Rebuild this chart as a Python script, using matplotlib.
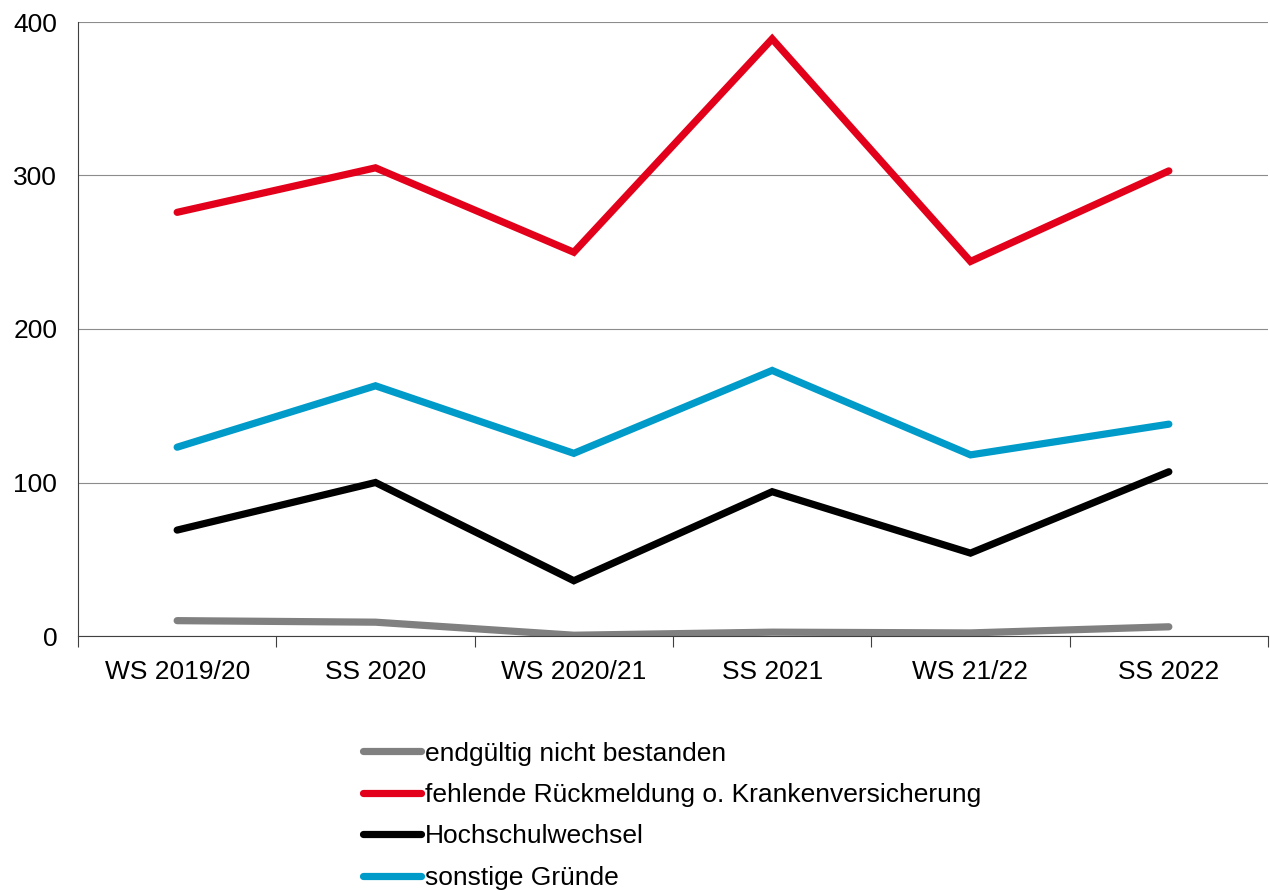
import matplotlib
matplotlib.use("Agg")
import matplotlib.pyplot as plt
from matplotlib.ticker import MultipleLocator

plt.rcParams['font.family'] = ['Liberation Sans', 'DejaVu Sans']

semester = ['WS 2019/20', 'SS 2020', 'WS 2020/21', 'SS 2021', 'WS 21/22', 'SS 2022']
nicht_bestanden = [10, 9, 0.5, 2.5, 2, 6]
rueckmeldung = [276, 305, 250, 389, 244, 303]
hochschulwechsel = [69, 100, 36, 94, 54, 107]
sonstige = [123, 163, 119, 173, 118, 138]

series = [
    ('endgültig nicht bestanden', nicht_bestanden, '#808080'),
    ('fehlende Rückmeldung o. Krankenversicherung', rueckmeldung, '#E2001A'),
    ('Hochschulwechsel', hochschulwechsel, '#000000'),
    ('sonstige Gründe', sonstige, '#009BC8'),
]

fig = plt.figure(figsize=(12.7, 8.9), dpi=100)
ax = fig.add_axes([78 / 1270, 1 - 636 / 890, 1190 / 1270, 614 / 890])

x = list(range(len(semester)))
for label, vals, col in series:
    ax.plot(x, vals, color=col, lw=5.2, label=label, solid_capstyle='round',
            solid_joinstyle='miter')

ax.set_xlim(-0.5, len(semester) - 0.5)
ax.set_ylim(0, 400)
ax.yaxis.set_major_locator(MultipleLocator(100))
ax.grid(axis='y', color='#8C8C8C', lw=0.8)
ax.set_axisbelow(True)

# category boundaries as major ticks, labels centred on minor ticks
ax.set_xticks([i - 0.5 for i in range(len(semester) + 1)], minor=False)
ax.set_xticklabels([])
ax.set_xticks(x, minor=True)
ax.set_xticklabels(semester, minor=True)
ax.tick_params(axis='x', which='major', length=8, width=0.8, color='#404040')
ax.tick_params(axis='x', which='minor', length=0, pad=17, labelsize=19)
ax.tick_params(axis='y', length=0, pad=15, labelsize=19)

for s in ['top', 'right']:
    ax.spines[s].set_visible(False)
ax.spines['left'].set_color('#404040')
ax.spines['bottom'].set_color('#404040')
ax.spines['left'].set_linewidth(0.8)
ax.spines['bottom'].set_linewidth(0.8)

fig.legend(loc='upper left', bbox_to_anchor=(352 / 1270, 1 - 731 / 890),
           frameon=False, fontsize=19, handlelength=2.2, handletextpad=0.15,
           labelspacing=0.66, borderaxespad=0)

fig.savefig('out.png', dpi=100)
